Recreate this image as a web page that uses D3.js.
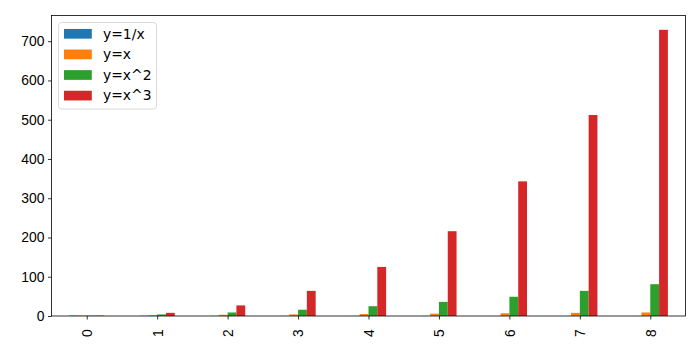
<!DOCTYPE html>
<html>
<head>
<meta charset="utf-8">
<script src="https://cdn.jsdelivr.net/npm/d3@7"></script>
<style>
  body { margin: 0; background: #fff; }
  svg { display: block; font-family: "DejaVu Sans", sans-serif; }
</style>
</head>
<body>
<div id="chart"></div>
<script>
// categories and series (x = index + 1)
const categories = ['0', '1', '2', '3', '4', '5', '6', '7', '8'];
const seriesNames = ['y=1/x', 'y=x', 'y=x^2', 'y=x^3'];
const invX = [1, 0.5, 0.3333, 0.25, 0.2, 0.1667, 0.1429, 0.125, 0.1111];
const linX = [1, 2, 3, 4, 5, 6, 7, 8, 9];
const sqX = [1, 4, 9, 16, 25, 36, 49, 64, 81];
const cubeX = [1, 8, 27, 64, 125, 216, 343, 512, 729];
const yTicks = [0, 100, 200, 300, 400, 500, 600, 700];
const colors = ['#1f77b4', '#ff7f0e', '#2ca02c', '#d62728'];

const series = [invX, linX, sqX, cubeX];

const W = 700, H = 350;
const margin = { left: 51.5, right: 14.5, top: 15.5, bottom: 34 };
const iw = W - margin.left - margin.right;
const ih = H - margin.top - margin.bottom;

const svg = d3.select('#chart').append('svg').attr('width', W).attr('height', H);
const g = svg.append('g').attr('transform', `translate(${margin.left},${margin.top})`);

const x = d3.scaleLinear().domain([-0.5, categories.length - 0.5]).range([0, iw]);
const yMax = d3.max(cubeX) * 1.05;
const y = d3.scaleLinear().domain([0, yMax]).range([ih, 0]);

// bars, pandas style: total width 0.5 split across series
const groupW = 0.5;
const bw = groupW / series.length;
series.forEach((vals, si) => {
    g.append('g').selectAll('rect').data(vals).enter().append('rect')
        .attr('x', (d, i) => x(i - groupW / 2 + si * bw))
        .attr('width', x(bw) - x(0))
        .attr('y', d => y(d))
        .attr('height', d => y(0) - y(d))
        .attr('fill', colors[si]);
});

// axes
const xAxis = g.append('g').attr('transform', `translate(0,${ih})`)
    .call(d3.axisBottom(x).tickValues(categories.map((c, i) => i)).tickFormat(i => categories[i]).tickSize(3.5).tickPadding(3.5));
xAxis.selectAll('text')
    .attr('transform', 'rotate(-90)')
    .attr('text-anchor', 'end')
    .attr('dx', '-0.45em')
    .attr('dy', '0.35em')
    .attr('x', 0).attr('y', 0)
    .attr('transform', 'translate(0,7) rotate(-90)');

const yAxis = g.append('g')
    .call(d3.axisLeft(y).tickValues(yTicks).tickSize(3.5).tickPadding(3.5));

[xAxis, yAxis].forEach(a => {
    a.select('.domain').remove();
    a.selectAll('line').attr('stroke', '#000').attr('stroke-width', 0.8);
    a.selectAll('text').attr('fill', '#000').style('font-size', '13.9px');
});

g.append('rect').attr('width', iw).attr('height', ih)
    .attr('fill', 'none').attr('stroke', '#000').attr('stroke-width', 0.8);

// legend
const lg = svg.append('g').attr('transform', 'translate(58.5,22.5)');
lg.append('rect').attr('width', 98).attr('height', 86.5).attr('rx', 3)
    .attr('fill', '#fff').attr('fill-opacity', 0.8)
    .attr('stroke', '#d0d0d0').attr('stroke-width', 0.8);
seriesNames.forEach((name, i) => {
    const cy = 11.3 + i * 20.6;
    lg.append('rect').attr('x', 5.5).attr('y', cy - 4.85).attr('width', 27.8).attr('height', 9.7)
        .attr('fill', colors[i]);
    lg.append('text').attr('x', 44.5).attr('y', cy).attr('dy', '0.35em')
        .style('font-size', '13.9px').attr('fill', '#000').text(name);
});
</script>
</body>
</html>
